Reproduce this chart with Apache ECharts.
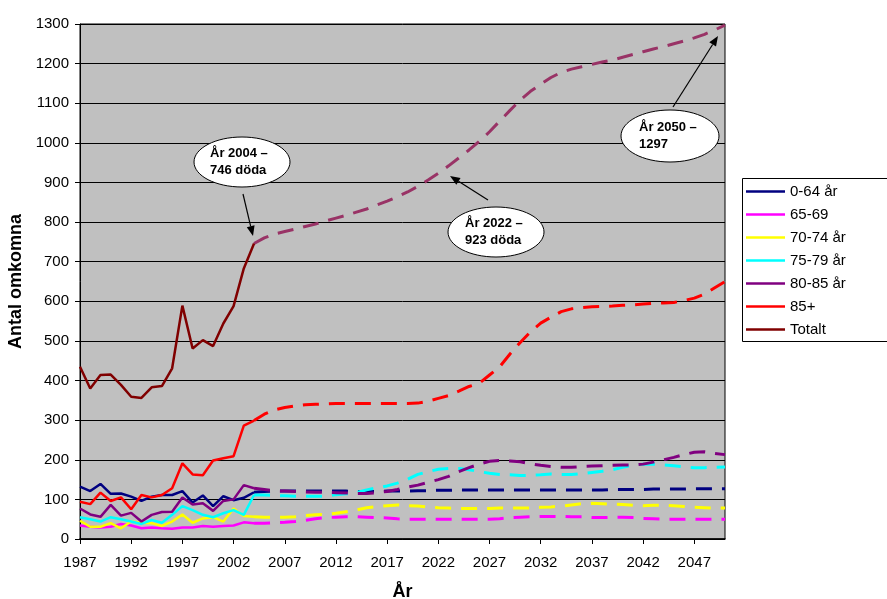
<!DOCTYPE html>
<html>
<head>
<meta charset="utf-8">
<script src="https://cdn.jsdelivr.net/npm/echarts@6/dist/echarts.min.js"></script>
<style>
html,body{margin:0;padding:0;background:#fff;}
#chart{width:887px;height:599px;}
</style>
</head>
<body>
<div id="chart"></div>
<script>
// Categories: years 1987..2050
const firstYear = 1987, lastYear = 2050, projStart = 2004;
const years = [];
for (let y = firstYear; y <= lastYear; y++) years.push(String(y));

const seriesNames = ['0-64 år', '65-69', '70-74 år', '75-79 år', '80-85 år', '85+', 'Totalt'];
const seriesColors = ['#000080', '#FF00FF', '#FFFF00', '#00FFFF', '#800080', '#FF0000', '#800000'];
const projColors = ['#000080', '#FF00FF', '#FFFF00', '#00FFFF', '#800080', '#FF0000', '#993366'];

// Historical values 1987..2004
const hist0_64  = [132,121,139,114,115,107,96,107,111,111,121,92,110,83,108,98,104,118];
const hist65_69 = [34,31,29,31,38,34,27,29,27,26,29,29,33,31,33,34,42,40];
const hist70_74 = [46,31,31,40,27,44,41,40,33,44,62,41,52,55,44,77,58,56];
const hist75_79 = [55,50,44,55,50,44,38,48,41,61,83,73,61,55,65,73,61,111];
const hist80_85 = [77,62,56,86,59,66,44,61,68,69,105,87,90,71,96,100,136,128];
const hist85p   = [94,88,117,96,105,75,111,105,111,128,191,163,161,198,204,209,286,299];
const histTot   = [435,380,414,415,389,359,356,383,386,431,589,481,502,487,544,588,683,746];

// Projections 2004..2050
const proj0_64  = [118,120,121,121,121,121,121,121,121,121,120,120,120,121,121,121,122,122,123,123,124,124,124,124,124,124,124,124,124,124,124,124,124,124,124,125,125,125,125,126,126,126,126,127,127,127,127];
const proj65_69 = [40,40,41,42,44,47,51,54,55,56,56,55,54,53,51,50,50,50,50,50,50,50,50,50,51,54,55,56,57,57,57,56,56,54,54,55,55,54,52,51,50,50,50,50,50,50,50];
const proj70_74 = [56,55,55,55,56,59,61,62,65,69,73,79,82,84,86,84,83,81,79,78,77,77,77,77,78,78,78,78,80,81,83,86,89,90,89,88,87,85,84,85,85,84,82,80,79,78,78];
const proj75_79 = [111,111,110,109,108,108,108,108,112,114,117,124,129,134,141,151,163,170,176,178,178,175,170,166,163,162,160,161,162,164,163,163,165,168,171,175,181,186,189,189,187,185,182,180,180,181,182];
const proj80_85 = [128,125,122,121,120,119,118,118,117,116,115,115,117,120,125,131,136,143,150,158,170,180,189,196,198,197,195,190,186,183,181,181,183,184,185,186,187,187,189,194,200,206,213,219,220,216,213];
const proj85p   = [299,315,326,332,336,339,340,341,342,342,342,342,342,342,342,342,343,348,355,362,373,385,393,414,435,467,496,523,545,560,574,581,584,586,587,588,590,591,593,595,596,597,602,608,618,634,650];
const projTot   = [746,760,770,776,782,789,795,803,810,817,825,833,843,853,864,876,890,906,923,942,962,982,1004,1028,1055,1082,1108,1130,1148,1165,1178,1186,1192,1198,1204,1209,1216,1223,1230,1237,1243,1250,1257,1265,1274,1285,1297];

const yTicks = { min: 0, max: 1300, interval: 100 };

const histAll = [hist0_64, hist65_69, hist70_74, hist75_79, hist80_85, hist85p, histTot];
const projAll = [proj0_64, proj65_69, proj70_74, proj75_79, proj80_85, proj85p, projTot];

function padHist(arr) {
  const out = years.map(() => null);
  arr.forEach((v, i) => { out[i] = v; });
  return out;
}
function padProj(arr) {
  const off = projStart - firstYear;
  const out = years.map(() => null);
  arr.forEach((v, i) => { out[off + i] = v; });
  return out;
}

const series = [];
projAll.forEach((arr, i) => {
  series.push({
    name: 'proj ' + seriesNames[i],
    type: 'line',
    data: padProj(arr),
    symbol: 'none',
    silent: true,
    lineStyle: { color: projColors[i], width: 3, type: [16, 10], cap: 'butt' },
    itemStyle: { color: projColors[i] },
    z: 2
  });
});
histAll.forEach((arr, i) => {
  series.push({
    name: seriesNames[i],
    type: 'line',
    data: padHist(arr),
    symbol: 'none',
    lineStyle: { color: seriesColors[i], width: 2.5 },
    itemStyle: { color: seriesColors[i] },
    z: 3
  });
});

const FONT = '"Liberation Sans", Arial, sans-serif';

const chart = echarts.init(document.getElementById('chart'), null, { renderer: 'canvas' });

function arrow(x1, y1, x2, y2) {
  const ang = Math.atan2(y2 - y1, x2 - x1);
  const L = 10, W = 4;
  const bx = x2 - L * Math.cos(ang), by = y2 - L * Math.sin(ang);
  const px = -Math.sin(ang) * W, py = Math.cos(ang) * W;
  return [
    { type: 'line', shape: { x1: x1, y1: y1, x2: bx, y2: by }, style: { stroke: '#000', lineWidth: 1.2 }, z: 20 },
    { type: 'polygon', shape: { points: [[x2, y2], [bx + px, by + py], [bx - px, by - py]] }, style: { fill: '#000' }, z: 20 }
  ];
}
function bubble(cx, cy, rx, ry, lines, tx) {
  return [
    { type: 'ellipse', shape: { cx: cx, cy: cy, rx: rx, ry: ry }, style: { fill: '#fff', stroke: '#000', lineWidth: 1 }, z: 20 },
    { type: 'text', x: tx, y: cy - 17, style: { text: lines.join('\n'), font: 'bold 13px ' + FONT, fill: '#000', lineHeight: 17 }, z: 21 }
  ];
}

const graphics = [
  { type: 'rect', shape: { x: 742.5, y: 178.5, width: 150, height: 163 }, style: { fill: '#fff', stroke: '#000', lineWidth: 1 }, z: 0 }
].concat(
  arrow(243, 194, 253, 236),
  bubble(242, 162, 48, 25, ['År 2004 –', '746 döda'], 210),
  arrow(488, 200, 450, 176),
  bubble(496, 232, 48, 25, ['År 2022 –', '923 döda'], 465),
  arrow(673, 107, 718, 36),
  bubble(670, 136, 49, 26, ['År 2050 –', '1297'], 639)
);

chart.setOption({
  animation: false,
  backgroundColor: '#fff',
  textStyle: { fontFamily: FONT },
  grid: {
    left: 80, right: 162, top: 24, bottom: 60,
    containLabel: false,
    outerBoundsMode: 'none',
    show: true, backgroundColor: '#C0C0C0', borderColor: '#000', borderWidth: 1
  },
  legend: {
    data: seriesNames,
    orient: 'vertical',
    left: 741, top: 179,
    icon: 'path://M0,0 L39,0 L39,2.5 L0,2.5 Z',
    itemWidth: 39, itemHeight: 15, itemGap: 8,
    textStyle: { fontSize: 15, color: '#000', fontFamily: FONT },
    z: 5
  },
  xAxis: {
    type: 'category',
    data: years,
    boundaryGap: false,
    name: 'År',
    nameLocation: 'middle',
    nameGap: 44,
    nameTextStyle: { fontSize: 18, fontWeight: 'bold', color: '#000', fontFamily: FONT },
    axisLine: { lineStyle: { color: '#000', width: 1.5 } },
    axisTick: { show: true, interval: 4, length: 5, lineStyle: { color: '#000' } },
    axisLabel: { interval: 4, fontSize: 15, color: '#000', margin: 16, fontFamily: FONT },
    splitLine: { show: false }
  },
  yAxis: {
    type: 'value',
    min: yTicks.min, max: yTicks.max, interval: yTicks.interval,
    name: 'Antal omkomna',
    nameLocation: 'middle',
    nameGap: 42,
    nameTextStyle: { fontSize: 18, fontWeight: 'bold', color: '#000', fontFamily: FONT },
    axisLine: { show: true, lineStyle: { color: '#000', width: 1 } },
    axisTick: { show: true, length: 5, lineStyle: { color: '#000' } },
    axisLabel: { fontSize: 15, color: '#000', margin: 11, fontFamily: FONT, formatter: function (v) { return String(v); } },
    splitLine: { show: true, lineStyle: { color: '#000', width: 1 } }
  },
  series: series,
  graphic: graphics
});
</script>
</body>
</html>
